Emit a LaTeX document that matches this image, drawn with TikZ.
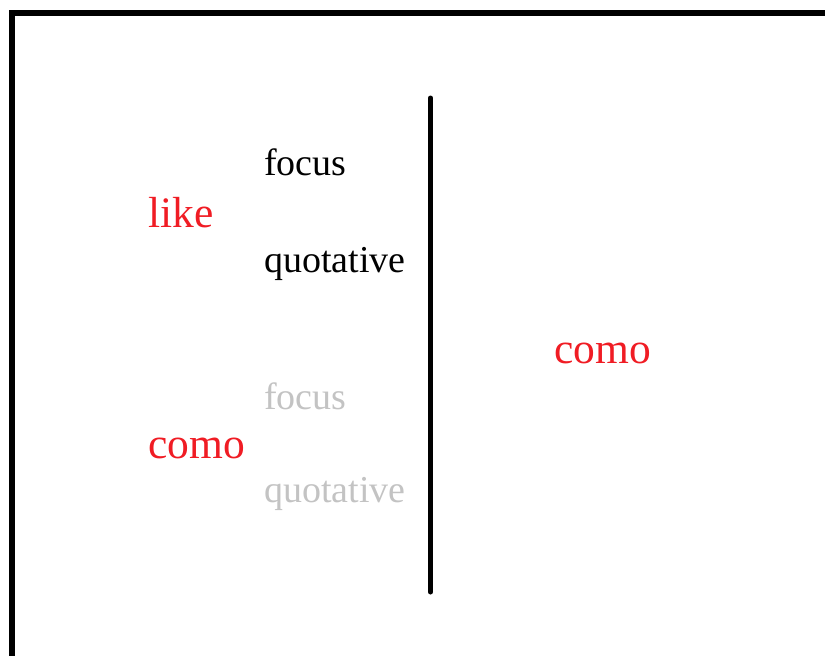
\documentclass[tikz,border=0pt]{standalone}
\usepackage{fontspec}
\setmainfont{Liberation Serif}
\usepackage{tikz}
\usetikzlibrary{positioning}
\usepackage{xcolor}
\definecolor{wordred}{HTML}{F01C24}
\definecolor{sensegray}{HTML}{C3C3C3}

\begin{document}
\begin{tikzpicture}[
  x=1pt, y=-1pt,
  word/.style={anchor=base west, inner sep=0pt, text=wordred, font=\fontsize{43.5}{43.5}\selectfont},
  sense/.style={anchor=base west, inner sep=0pt, text=black, font=\fontsize{38}{38}\selectfont},
  faded/.style={sense, text=sensegray},
  frame/.style={line width=6pt, draw=black},
  divider/.style={line width=5pt, draw=black, line cap=round}
]
\useasboundingbox (0,0) rectangle (825,656);
\begin{scope}
\clip (0,0) rectangle (825,656);
\draw[frame] (12,13) rectangle (840,670);
\end{scope}

\node[word] (like) at (148,227) {like};
\node[sense] (likefocus) at (264,175) {focus};
\node[sense] (likequot) at (264,272) {quotative};

\node[word] (comoleft) at (148,458) {como};
\node[faded] (comofocus) at (264,409) {focus};
\node[faded] (comoquot) at (264,502) {quotative};

\coordinate (divtop) at (430.5,98);
\coordinate (divbot) at (430.5,592);
\draw[divider] (divtop) -- (divbot);

\node[word] (comoright) at (554,363) {como};
\end{tikzpicture}
\end{document}
